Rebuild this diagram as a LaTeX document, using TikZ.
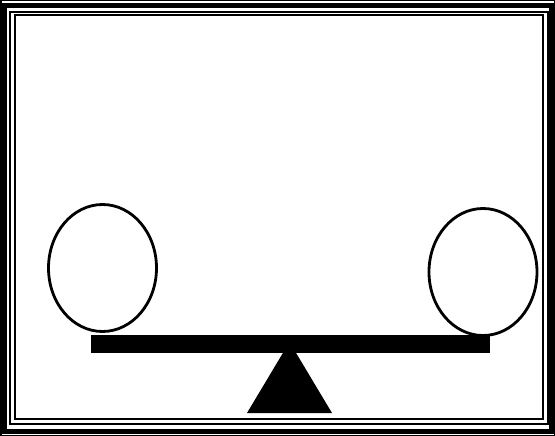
\documentclass[tikz,border=0pt]{standalone}
\usetikzlibrary{shapes.geometric}
\begin{document}
\begin{tikzpicture}[x=1pt,y=-1pt,
  frameline/.style={draw=black},
  pan/.style={ellipse,draw=black,line width=2.8pt,fill=white,inner sep=0pt,minimum width=108pt,minimum height=127pt},
  beambox/.style={rectangle,fill=black,inner sep=0pt,minimum width=399pt,minimum height=18pt}]
\useasboundingbox[fill=white] (0,0) rectangle (555,436);
% frame
\draw[frameline,line width=1.5pt] (0.75,0.75) rectangle (554.25,435.25);
\draw[frameline,line width=5pt] (4.5,6) rectangle (551.5,431);
\draw[frameline,line width=2pt] (10,12) rectangle (547.5,424);
\draw[frameline,line width=2pt] (15,15.5) rectangle (543,418.5);
% pans
\node[pan] (leftpan) at (102.5,268) {};
\node[pan] (rightpan) at (483,272) {};
% beam
\node[beambox] (beam) at (290.5,344) {};
% fulcrum
\coordinate (apex) at (289.5,342);
\coordinate (baseL) at (247,413);
\coordinate (baseR) at (332,413);
\fill[black] (apex) -- (baseL) -- (baseR) -- cycle;
\end{tikzpicture}
\end{document}
